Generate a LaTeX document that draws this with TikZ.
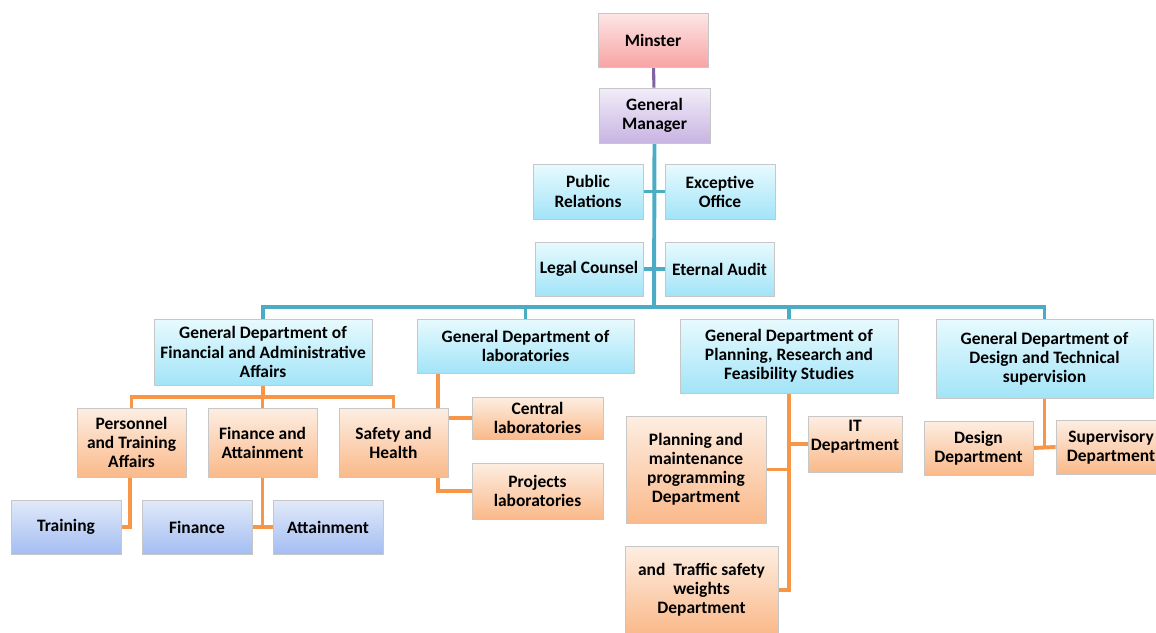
\documentclass[tikz,border=0pt]{standalone}
\usepackage{fontspec}
\setmainfont{Carlito}
\usetikzlibrary{backgrounds,shadows,calc}
\definecolor{tealline}{HTML}{4BACC6}
\definecolor{orline}{HTML}{F79646}
\definecolor{puline}{HTML}{8064A2}
\definecolor{pinkT}{HTML}{FDE6E6}
\definecolor{pinkB}{HTML}{F8A4A4}
\definecolor{purT}{HTML}{F2EDF9}
\definecolor{purB}{HTML}{C8B4E2}
\definecolor{cyT}{HTML}{E8FAFE}
\definecolor{cyB}{HTML}{A2E4F8}
\definecolor{orT}{HTML}{FDEEE2}
\definecolor{orB}{HTML}{FAB98A}
\definecolor{blT}{HTML}{E2EAF9}
\definecolor{blB}{HTML}{A3BDF2}
\tikzset{
  box/.style={draw=black!22, line width=0.5pt, inner sep=0pt, align=center,
    font=\bfseries\fontsize{12.4}{13.6}\selectfont, text=black,
    drop shadow={shadow xshift=0.7pt, shadow yshift=-0.7pt, fill=black!45, opacity=0.45}},
  pinkbox/.style={box, top color=pinkT, bottom color=pinkB},
  purbox/.style={box, top color=purT, bottom color=purB},
  cybox/.style={box, top color=cyT, bottom color=cyB},
  orbox/.style={box, top color=orT, bottom color=orB},
  blbox/.style={box, top color=blT, bottom color=blB},
  tl/.style={draw=tealline, line width=2.8pt},
  ol/.style={draw=orline, line width=2.8pt},
  pl/.style={draw=puline, line width=2.2pt},
}
% \bx{style}{name}{x1}{y1}{x2}{y2}{text}
\newcommand{\bx}[7]{\node[#1, minimum width={(#5-#3)*0.025cm}, minimum height={(#6-#4)*0.025cm}] (#2) at ({(#3+#5)/2},{(#4+#6)/2}) {#7};}
\begin{document}
\begin{tikzpicture}[x=0.025cm,y=-0.025cm]
\useasboundingbox (0,0) rectangle (1156,632);
\clip (0,0) rectangle (1156,632);
\bx{pinkbox}{min}{598}{13}{708}{67}{Minster}
\bx{purbox}{gm}{599}{88}{710}{143}{General\\Manager}
\bx{cybox}{pr}{533}{164}{643}{219}{Public\\Relations}
\bx{cybox}{eo}{665}{164}{775}{219}{Exceptive\\Office}
\bx{cybox}{lc}{535}{242}{643}{296}{Legal Counsel}
\bx{cybox}{ea}{665}{242}{774}{296}{Eternal Audit}
\bx{cybox}{gfin}{154}{319}{372}{385}{General Department of\\Financial and Administrative\\Affairs}
\bx{cybox}{glab}{417}{319}{634}{373}{General Department of\\laboratories}
\bx{cybox}{gpl}{680}{319}{898}{393}{General Department of\\Planning, Research and\\Feasibility Studies}
\bx{cybox}{gdes}{936}{319}{1153}{398}{General Department of\\Design and Technical\\supervision}
\bx{orbox}{pers}{77}{408}{186}{477}{Personnel\\and Training\\Affairs}
\bx{orbox}{fa}{208}{408}{317}{477}{Finance and\\Attainment}
\bx{orbox}{safe}{339}{408}{448}{477}{Safety and\\Health}
\bx{blbox}{train}{11}{500}{121}{554}{Training}
\bx{blbox}{fin}{142}{500}{252}{554}{Finance}
\bx{blbox}{att}{273}{500}{383}{554}{Attainment}
\bx{orbox}{cen}{472}{397}{603}{439}{Central\\laboratories}
\bx{orbox}{proj}{472}{463}{603}{519}{Projects\\laboratories}
\bx{orbox}{pm}{626}{416}{766}{523}{Planning and\\maintenance\\programming\\Department}
\bx{orbox}{it}{808}{416}{902}{472}{IT\\Department\\[-0.3ex]\mbox{}}
\bx{orbox}{tr}{625}{546}{778}{634}{and\ \ Traffic safety\\weights\\Department}
\bx{orbox}{des}{924}{421}{1033}{475}{Design\\Department}
\bx{orbox}{sup}{1056}{420}{1166}{474}{Supervisory\\Department}
\coordinate (bus) at (654,307);
\coordinate (ofin) at (263,397);
\coordinate (labx) at (438,0);
\coordinate (persx) at (130,0);
\begin{pgfonlayer}{background}
\draw[pl] (min) -- (gm);
\draw[tl] (gm.south) -- (bus);
\draw[tl] (pr.east) -- (eo.west);
\draw[tl] (lc.east) -- (ea.west);
\draw[tl] (gfin.north) |- (bus) -| (gdes.north);
\draw[tl] (glab.north) -- (glab.north |- bus);
\draw[tl] (gpl.north) -- (gpl.north |- bus);
\draw[ol] (gfin.south) -- (ofin);
\draw[ol] (pers.north) |- (ofin) -| (safe.north);
\draw[ol] (fa.north) -- (fa.north |- ofin);
\draw[ol] (pers.south -| persx) |- (train.east);
\draw[ol] (fa.south) -- (fa.south |- fin.east);
\draw[ol] (fin.east) -- (att.west);
\draw[ol] (glab.south -| labx) |- (proj.west);
\draw[ol] (cen.west) -- (cen.west -| safe.east);
\draw[ol] (gpl.south) |- (tr.east);
\draw[ol] (it.west) -- (it.west -| gpl.south);
\draw[ol] (pm.east) -- (pm.east -| gpl.south);
\draw[ol] (gdes.south) -- (gdes.south |- des.east);
\draw[ol] (des.east) -- (sup.west);
\end{pgfonlayer}
\end{tikzpicture}
\end{document}
